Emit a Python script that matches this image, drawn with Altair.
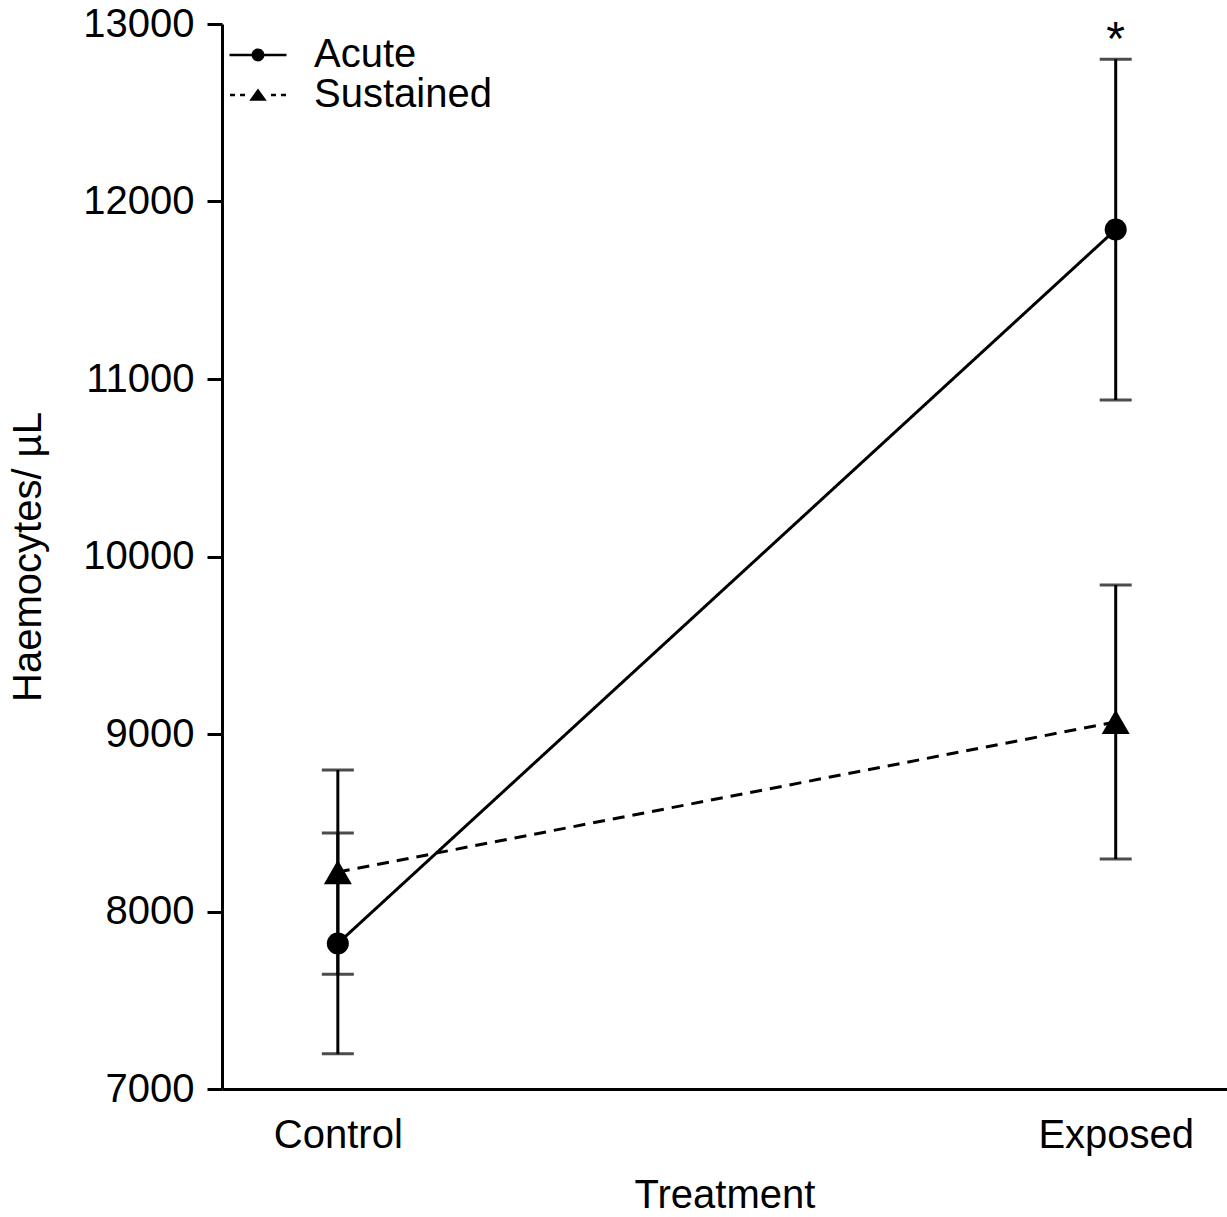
import altair as alt
import pandas as pd

treatments = ["Control", "Exposed"]
groups = ["Acute", "Sustained"]
acute_mean = [7820, 11842]
acute_err = [622, 960]
sustained_mean = [8222, 9068]
sustained_err = [575, 772]
acute_sig = ["", "*"]
sustained_sig = ["", ""]
y_ticks = [7000, 8000, 9000, 10000, 11000, 12000, 13000]

rows = []
for g, means, errs, sigs in [("Acute", acute_mean, acute_err, acute_sig),
                             ("Sustained", sustained_mean, sustained_err, sustained_sig)]:
    for t, m, e, s in zip(treatments, means, errs, sigs):
        rows.append({"group": g, "treatment": t, "mean": m, "lo": m - e, "hi": m + e, "sig": s})
df = pd.DataFrame(rows)

FONT = "Liberation Sans"
SW = 3

# legend key glyphs (line + marker), filled outlines in symbol units
acute_path = ("M-3,-0.12L-0.5,-0.12L-0.5,0.12L-3,0.12Z"
              "M0.5,-0.12L3,-0.12L3,0.12L0.5,0.12Z"
              "M-0.68,0A0.68,0.68,0,1,1,0.68,0A0.68,0.68,0,1,1,-0.68,0Z")
sust_path = ("M-2.95,-0.12L-2.42,-0.12L-2.42,0.12L-2.95,0.12Z"
             "M-1.89,-0.12L-1.37,-0.12L-1.37,0.12L-1.89,0.12Z"
             "M1.37,-0.12L1.89,-0.12L1.89,0.12L1.37,0.12Z"
             "M2.42,-0.12L2.95,-0.12L2.95,0.12L2.42,0.12Z"
             "M0,-0.68L0.92,0.6L-0.92,0.6Z")

x = alt.X("treatment:N", sort=treatments,
          scale=alt.Scale(type="point", padding=0.146, align=0.51),
          axis=alt.Axis(title="Treatment", labelAngle=0, ticks=False, labelPadding=26,
                        titlePadding=20))
yscale = alt.Scale(domain=[7000, 13000], nice=False, zero=False)
y = alt.Y("mean:Q", scale=yscale,
          axis=alt.Axis(title="Haemocytes/ µL", values=y_ticks, format="d", tickSize=15,
                        labelPadding=13, titlePadding=34))

base = alt.Chart(df)

bars = base.mark_rule(color="black", strokeWidth=SW).encode(
    x=x, y=alt.Y("lo:Q", scale=yscale), y2="hi:Q")
cap_lo = base.mark_tick(color="black", thickness=SW, size=32, orient="horizontal").encode(
    x=x, y=alt.Y("lo:Q", scale=yscale))
cap_hi = base.mark_tick(color="black", thickness=SW, size=32, orient="horizontal").encode(
    x=x, y=alt.Y("hi:Q", scale=yscale))

lines = base.mark_line(color="black", strokeWidth=SW).encode(
    x=x, y=y,
    strokeDash=alt.StrokeDash("group:N", scale=alt.Scale(domain=groups, range=[[1, 0], [12, 8]]),
                              legend=None))

points = base.mark_point(filled=True, color="black", opacity=1).encode(
    x=x, y=y,
    shape=alt.Shape("group:N", scale=alt.Scale(domain=groups, range=["circle", "triangle-up"]),
                    legend=None),
    size=alt.Size("group:N", scale=alt.Scale(domain=groups, range=[484, 784]), legend=None))

stars = base.mark_text(fontSize=48, font=FONT, color="black", baseline="alphabetic", dy=-4).encode(
    x=x, y=alt.Y("hi:Q", scale=yscale), text="sig:N")

legend = alt.Legend(
    title=None, orient="none", legendX=16, legendY=11, padding=0,
    labelFontSize=40, labelFont=FONT, labelColor="black", labelOffset=36, labelLimit=600,
    symbolSize=361, rowPadding=-10, symbolFillColor="black", symbolStrokeColor="black",
    symbolStrokeWidth=0, symbolOpacity=1)

key = base.transform_filter("false").mark_point(
    filled=True, fill="black", opacity=1, size=361).encode(
    x=x, y=y,
    shape=alt.Shape("group:N", scale=alt.Scale(domain=groups, range=[acute_path, sust_path]),
                    legend=legend))

chart = alt.layer(bars, cap_lo, cap_hi, lines, points, stars, key).resolve_scale(
    shape="independent", strokeDash="independent", size="independent"
).properties(
    width=1005, height=1065,
    autosize=alt.AutoSizeParams(type="none"),
    padding={"left": 222, "top": 24, "right": 0, "bottom": 128},
).configure_view(stroke=None).configure_axis(
    labelFont=FONT, titleFont=FONT, labelFontSize=40, titleFontSize=40,
    titleFontWeight="normal", labelColor="black", titleColor="black",
    domainColor="black", tickColor="black", domainWidth=SW, tickWidth=SW, grid=False,
)

chart.save("out.html", embed_options={"renderer": "svg", "actions": False})
